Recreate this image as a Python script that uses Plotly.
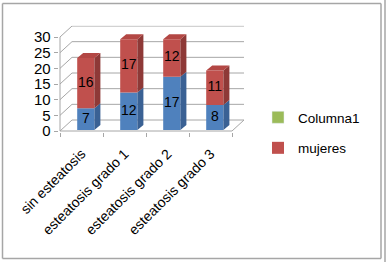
import plotly.graph_objects as go

# ---------------- data ----------------
categories = ["sin esteatosis", "esteatosis grado 1", "esteatosis grado 2", "esteatosis grado 3"]
hombres = [7, 12, 17, 8]
mujeres = [16, 17, 12, 11]
columna1 = [None, None, None, None]
y_ticks = [0, 5, 10, 15, 20, 25, 30]

# ---------------- geometry / style ----------------
W, H = 387, 262
PX_X0 = 60.0      # pixel of x = -0.5 (front-left corner)
PPU_X = 43.0      # pixels per category
PY_0 = 131.0      # pixel of value 0 at the front
PPU_Y = 3.133     # pixels per value unit
XR = [-0.53, 3.83]
YR = [-0.3, 33.6]

dom_x = [(PX_X0 + (XR[0] + 0.5) * PPU_X) / W, (PX_X0 + (XR[1] + 0.5) * PPU_X) / W]
dom_y = [1 - (PY_0 - YR[0] * PPU_Y) / H, 1 - (PY_0 - YR[1] * PPU_Y) / H]

DXW, DYW = 12 / PPU_X, 11 / PPU_Y     # wall depth
BAR_OFF, BAR_W, BAR_BASE = 0.1, 0.4, 0.3
BDX, BDY = 6 / PPU_X, 5 / PPU_Y       # bar depth

GRID = "#A6A6A6"
BLUE, BLUE_SIDE = "#4F81BD", "#3A6194"
RED, RED_SIDE, RED_TOP = "#C0504D", "#8E3937", "#B34744"
GREEN = "#9BBB59"
FONT = "Liberation Sans"

n = len(categories)
xs = list(range(n))
xb = [i + BAR_OFF for i in xs]
red_base = [BAR_BASE + h for h in hombres]

fig = go.Figure()

shapes = []
def seg(x0, y0, x1, y1):
    shapes.append(dict(type="line", xref="x", yref="y", x0=x0, y0=y0, x1=x1, y1=y1,
                       line=dict(color=GRID, width=1), layer="below"))

left, right = -0.5, n - 0.5
for v in y_ticks:
    seg(left + DXW, v + DYW, right + DXW, v + DYW)      # back wall gridline
    seg(left, v, left + DXW, v + DYW)                    # side wall diagonal
seg(left, 0, right, 0)                                   # front floor edge
seg(right, 0, right + DXW, DYW)                          # right floor edge
seg(left, 0, left, y_ticks[-1])                          # front vertical axis

# frame
def pline(x0, y0, x1, y1):
    shapes.append(dict(type="line", xref="paper", yref="paper",
                       x0=x0 / W, y0=1 - y0 / H, x1=x1 / W, y1=1 - y1 / H,
                       line=dict(color="#A6A6A6", width=1.5)))
pline(2.5, 3.5, 381, 3.5)
pline(2.5, 3.5, 2.5, 258.5)
pline(2.5, 258.5, 381, 258.5)
pline(381, 3.5, 381, 258.5)
pline(385, 0, 385, 262)

# front faces
fig.add_trace(go.Bar(x=xb, y=hombres, base=BAR_BASE, width=BAR_W, name="hombres",
                     marker=dict(color=BLUE, line=dict(width=0)), showlegend=False,
                     hoverinfo="skip"))
fig.add_trace(go.Bar(x=xb, y=mujeres, base=red_base, width=BAR_W, name="mujeres",
                     marker=dict(color=RED, line=dict(width=0)), showlegend=True,
                     legendgroup="m", legendrank=2, hoverinfo="skip"))
fig.add_trace(go.Bar(x=xb, y=columna1, width=BAR_W, name="Columna1",
                     marker=dict(color=GREEN), legendgroup="c", legendrank=1,
                     hoverinfo="skip"))

def side_poly(bases, heights):
    px, py = [], []
    for x, b, h in zip(xb, bases, heights):
        xr = x + BAR_W / 2
        px += [xr, xr + BDX, xr + BDX, xr, xr, None]
        py += [b, b + BDY, b + h + BDY, b + h, b, None]
    return px, py

def top_poly(bases, heights):
    px, py = [], []
    for x, b, h in zip(xb, bases, heights):
        xl, xr = x - BAR_W / 2, x + BAR_W / 2
        t = b + h
        px += [xl, xr, xr + BDX, xl + BDX, xl, None]
        py += [t, t, t + BDY, t + BDY, t, None]
    return px, py

for (bases, heights, col) in [([BAR_BASE] * n, hombres, BLUE_SIDE), (red_base, mujeres, RED_SIDE)]:
    px, py = side_poly(bases, heights)
    fig.add_trace(go.Scatter(x=px, y=py, fill="toself", fillcolor=col, mode="lines",
                             line=dict(width=0, color=col), showlegend=False, hoverinfo="skip"))
px, py = top_poly(red_base, mujeres)
fig.add_trace(go.Scatter(x=px, y=py, fill="toself", fillcolor=RED_TOP, mode="lines",
                         line=dict(width=0, color=RED_TOP), showlegend=False, hoverinfo="skip"))

# data labels
lab_x = xb + xb
lab_y = [BAR_BASE + h / 2 for h in hombres] + [b + m / 2 for b, m in zip(red_base, mujeres)]
lab_t = [str(v) for v in hombres] + [str(v) for v in mujeres]
fig.add_trace(go.Scatter(x=lab_x, y=lab_y, text=lab_t, mode="text", cliponaxis=False,
                         textfont=dict(family=FONT, size=14, color="black"),
                         showlegend=False, hoverinfo="skip"))

fig.update_layout(
    width=W, height=H, margin=dict(l=0, r=0, t=0, b=0),
    paper_bgcolor="white", plot_bgcolor="rgba(0,0,0,0)",
    barmode="overlay", shapes=shapes,
    font=dict(family=FONT, color="black"),
    xaxis=dict(domain=dom_x, range=XR, tickmode="array", tickvals=xs, ticktext=categories,
               tickangle=-45, ticks="", showgrid=False, zeroline=False, showline=False,
               tickfont=dict(size=14), ticklabelstandoff=10, automargin=False,
               minor=dict(tickmode="array", tickvals=[i - 0.5 for i in range(n + 1)],
                          ticks="outside", ticklen=4, tickcolor=GRID, showgrid=False)),
    yaxis=dict(domain=dom_y, range=YR, tickmode="array", tickvals=y_ticks, ticks="outside",
               ticklen=4, tickcolor=GRID, showgrid=False, zeroline=False, showline=False,
               tickfont=dict(size=15), automargin=False),
    legend=dict(x=258 / W, y=1 - 102 / H, xanchor="left", yanchor="top",
                font=dict(size=13.5), traceorder="grouped", tracegroupgap=10,
                bgcolor="rgba(0,0,0,0)"),
    showlegend=True,
)

fig.write_html("out.html")
